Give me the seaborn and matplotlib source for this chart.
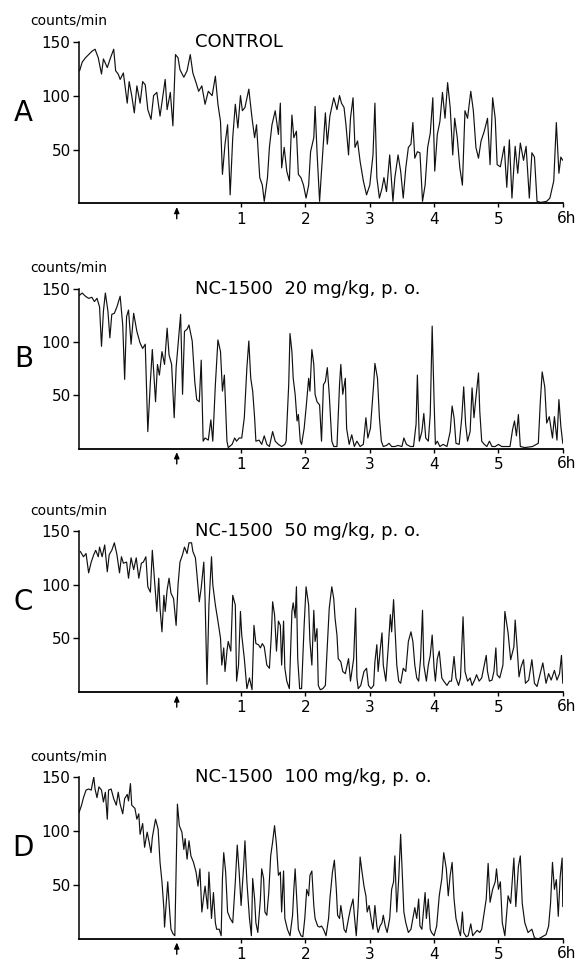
import matplotlib
matplotlib.use("Agg")
import matplotlib.pyplot as plt
import seaborn as sns
import pandas as pd

# activity traces (hours after dosing, counts/min)
hours_a = [-1.51, -1.47, -1.42, -1.37, -1.32, -1.27, -1.22, -1.17, -1.14, -1.08, -1.03, -0.98, -0.95, -0.91,
           -0.88, -0.83, -0.77, -0.74, -0.70, -0.66, -0.62, -0.57, -0.53, -0.49, -0.45, -0.40, -0.36, -0.31,
           -0.26, -0.22, -0.18, -0.15, -0.10, -0.06, -0.02, 0.02, 0.05, 0.11, 0.16, 0.21, 0.25, 0.30, 0.34,
           0.39, 0.44, 0.49, 0.55, 0.60, 0.64, 0.68, 0.71, 0.75, 0.79, 0.83, 0.87, 0.91, 0.95, 0.99, 1.02,
           1.06, 1.12, 1.17, 1.21, 1.24, 1.29, 1.33, 1.36, 1.41, 1.44, 1.48, 1.53, 1.58, 1.61,
           1.63, 1.67, 1.71, 1.75, 1.79, 1.82, 1.86, 1.89, 1.93, 1.97, 2.01, 2.05, 2.08, 2.13, 2.15, 2.18,
           2.22, 2.25, 2.31, 2.34, 2.38, 2.44, 2.49, 2.53, 2.56, 2.60, 2.63, 2.67, 2.70, 2.74, 2.77, 2.81,
           2.85, 2.90, 2.95, 3.00, 3.05, 3.08, 3.11, 3.15, 3.19, 3.22, 3.26, 3.31, 3.36, 3.39, 3.44, 3.48,
           3.52, 3.56, 3.60, 3.64, 3.67, 3.70, 3.74, 3.78, 3.82, 3.86, 3.90, 3.94, 3.98, 4.01, 4.05, 4.09,
           4.13, 4.17, 4.21, 4.25, 4.29, 4.32, 4.36, 4.40, 4.44, 4.48, 4.52, 4.57, 4.61, 4.65, 4.69, 4.73,
           4.78, 4.83, 4.87, 4.91, 4.95, 4.98,
           5.03, 5.09, 5.13, 5.17, 5.21, 5.26, 5.30, 5.34, 5.39, 5.43, 5.48, 5.52, 5.56, 5.60, 5.66, 5.75,
           5.80, 5.86, 5.90, 5.94, 5.97, 6.00]
counts_a = [123, 131, 135, 138, 141, 143, 135, 120, 134, 126, 135, 143, 123, 120,
            115, 121, 93, 113, 100, 84, 109, 93, 113, 110, 87, 78, 100, 103,
            81, 98, 115, 87, 103, 72, 138, 135, 124, 117, 123, 138, 121, 112, 104,
            109, 92, 104, 100, 118, 92, 76, 27, 55, 73, 8, 61, 92, 70, 100, 86,
            89, 106, 79, 61, 73, 24, 17, 2, 24, 52, 73, 86, 64, 93,
            33, 52, 30, 21, 82, 61, 67, 27, 24, 17, 5, 17, 48, 61, 90, 48,
            2, 30, 84, 55, 81, 98, 87, 100, 93, 89, 73, 45, 79, 98, 52, 58,
            39, 21, 8, 17, 45, 93, 24, 5, 14, 24, 11, 45, 2, 24, 45, 30,
            5, 33, 52, 55, 75, 42, 48, 47, 2, 17, 52, 65, 98, 30, 64, 76,
            103, 79, 112, 89, 45, 79, 61, 33, 17, 86, 79, 104, 86, 52, 42, 58,
            67, 79, 36, 98, 79, 36,
            34, 53, 15, 59, 5, 53, 28, 56, 40, 53, 5, 47, 43, 2, 1, 2,
            5, 21, 75, 28, 43, 40]

hours_b = [-1.51, -1.47, -1.42, -1.37, -1.32, -1.28, -1.24, -1.20, -1.17, -1.14, -1.11, -1.07, -1.04, -1.01,
           -0.97, -0.93, -0.88, -0.84, -0.81, -0.78, -0.75, -0.71, -0.67, -0.62, -0.57, -0.53, -0.49, -0.45,
           -0.41, -0.38, -0.33, -0.30, -0.27, -0.23, -0.19, -0.15, -0.12, -0.08, -0.04, -0.01, 0.03, 0.06,
           0.09, 0.12, 0.16, 0.19, 0.24, 0.28, 0.31, 0.35, 0.38, 0.41, 0.44, 0.49, 0.53, 0.56, 0.60, 0.64,
           0.68, 0.71, 0.74, 0.78, 0.80, 0.86, 0.90, 0.93, 0.97, 1.01, 1.05, 1.09, 1.12, 1.15, 1.18, 1.21,
           1.23, 1.28, 1.32, 1.36, 1.40, 1.44, 1.49, 1.53, 1.58, 1.63, 1.68,
           1.70, 1.74, 1.76, 1.79, 1.81, 1.84, 1.87, 1.89, 1.92, 1.94, 1.98, 2.01, 2.05, 2.07, 2.10, 2.13,
           2.15, 2.18, 2.22, 2.25, 2.28, 2.31, 2.34, 2.37, 2.41, 2.44, 2.49, 2.53, 2.55, 2.58, 2.62, 2.64,
           2.68, 2.72, 2.76, 2.80, 2.85, 2.90, 2.94, 2.97, 3.01, 3.06, 3.08, 3.12, 3.15, 3.18, 3.21, 3.26,
           3.30, 3.34, 3.39, 3.44, 3.50, 3.53, 3.57, 3.63, 3.68, 3.72, 3.74, 3.77, 3.81, 3.84, 3.87, 3.91,
           3.94, 3.97, 4.00, 4.02, 4.05, 4.09, 4.14, 4.20, 4.25, 4.28, 4.31, 4.34, 4.39, 4.43, 4.46, 4.49,
           4.52, 4.56, 4.59, 4.62, 4.65, 4.69, 4.71, 4.74, 4.78, 4.82, 4.86, 4.90, 4.95, 5.00, 5.05, 5.10,
           5.18, 5.22, 5.25, 5.28, 5.31, 5.34, 5.41, 5.53, 5.62, 5.65, 5.68, 5.72, 5.75, 5.79, 5.84, 5.87,
           5.91, 5.94, 5.97, 6.00]
counts_b = [144, 146, 143, 141, 142, 138, 141, 133, 96, 129, 146, 129, 104, 126,
            127, 133, 143, 116, 65, 124, 130, 98, 127, 110, 99, 94, 98, 16,
            63, 93, 44, 79, 69, 91, 79, 113, 88, 79, 29, 76, 104, 126,
            51, 110, 112, 116, 101, 63, 46, 44, 83, 7, 10, 8, 27, 7, 60, 102,
            91, 54, 69, 7, 1, 4, 10, 7, 10, 10, 29, 76, 101, 66, 54, 29,
            7, 8, 4, 12, 4, 2, 16, 7, 4, 2, 4,
            7, 60, 108, 91, 66, 51, 26, 32, 7, 4, 19, 38, 66, 54, 93, 79,
            51, 44, 41, 7, 60, 63, 76, 51, 7, 2, 2, 60, 79, 51, 66, 19,
            4, 13, 2, 7, 2, 4, 29, 10, 19, 60, 80, 66, 29, 7, 2, 3,
            5, 2, 2, 3, 2, 10, 4, 2, 2, 23, 69, 7, 16, 33, 10, 7,
            32, 115, 44, 4, 7, 2, 4, 2, 16, 40, 29, 5, 4, 29, 58, 23,
            7, 16, 57, 29, 48, 71, 35, 7, 4, 2, 7, 2, 2, 4, 2, 2,
            2, 18, 26, 12, 32, 2, 1, 2, 5, 43, 72, 58, 24, 30, 10, 30,
            8, 46, 21, 5]

hours_c = [-1.50, -1.45, -1.41, -1.37, -1.33, -1.29, -1.26, -1.22, -1.20, -1.16, -1.12, -1.08, -1.05, -1.01,
           -0.97, -0.93, -0.89, -0.86, -0.83, -0.78, -0.75, -0.71, -0.67, -0.63, -0.59, -0.55, -0.52, -0.48,
           -0.45, -0.41, -0.38, -0.34, -0.31, -0.28, -0.26, -0.23, -0.20, -0.18, -0.15, -0.12, -0.09, -0.05,
           -0.01, 0.02, 0.05, 0.09, 0.12, 0.16, 0.19, 0.23, 0.25, 0.29, 0.31, 0.35, 0.38, 0.42, 0.44, 0.47,
           0.50, 0.54, 0.56, 0.60, 0.64, 0.68, 0.70, 0.73, 0.75, 0.78, 0.80, 0.84, 0.87, 0.91, 0.93, 0.96,
           0.99, 1.01, 1.05, 1.09, 1.13, 1.17, 1.20, 1.23, 1.27, 1.30, 1.33, 1.36, 1.40, 1.44, 1.47, 1.49,
           1.52, 1.55, 1.58,
           1.61, 1.63, 1.66, 1.68, 1.71, 1.75, 1.79, 1.81, 1.84, 1.86, 1.88, 1.91, 1.94, 1.98, 2.01, 2.05,
           2.07, 2.10, 2.13, 2.15, 2.18, 2.20, 2.23, 2.27, 2.31, 2.33, 2.37, 2.41, 2.44, 2.46, 2.49, 2.51,
           2.55, 2.58, 2.62, 2.67, 2.70, 2.75, 2.78, 2.80, 2.82, 2.86, 2.89, 2.91, 2.95, 2.98, 3.02, 3.06,
           3.08, 3.11, 3.13, 3.16, 3.19, 3.21, 3.25, 3.29, 3.32, 3.34, 3.37, 3.39, 3.42, 3.45, 3.48, 3.52,
           3.56, 3.60, 3.64, 3.67, 3.70, 3.73, 3.76, 3.79, 3.82, 3.84, 3.88, 3.91, 3.94, 3.97, 4.00, 4.02,
           4.05, 4.08, 4.12, 4.15, 4.20, 4.24, 4.27, 4.31, 4.34, 4.38, 4.41, 4.45, 4.48, 4.52, 4.56, 4.59,
           4.63, 4.66, 4.70, 4.74, 4.78, 4.81, 4.83, 4.86, 4.90, 4.93, 4.96, 4.98, 5.02, 5.07, 5.10,
           5.15, 5.19, 5.24, 5.26, 5.29, 5.32, 5.35, 5.39, 5.42, 5.47, 5.52, 5.56, 5.60, 5.65, 5.69, 5.74,
           5.78, 5.82, 5.87, 5.91, 5.95, 5.98, 6.00]
counts_c = [131, 126, 129, 111, 121, 128, 132, 126, 135, 126, 137, 112, 128, 132,
            139, 128, 111, 126, 120, 121, 106, 125, 114, 125, 106, 120, 121, 126,
            98, 93, 132, 100, 75, 106, 78, 56, 90, 75, 95, 106, 92, 87,
            62, 100, 121, 128, 135, 129, 139, 139, 131, 125, 112, 84, 97, 121, 87, 7,
            81, 126, 100, 81, 66, 50, 25, 41, 19, 38, 47, 38, 90, 81, 10, 25,
            75, 53, 31, 3, 13, 2, 62, 45, 44, 41, 45, 42, 25, 22, 53, 84,
            72, 38, 66,
            62, 25, 66, 22, 10, 3, 75, 83, 69, 98, 31, 3, 3, 62, 98, 81,
            47, 25, 76, 47, 59, 6, 2, 3, 6, 31, 78, 98, 87, 69, 53, 31,
            28, 19, 17, 31, 10, 31, 78, 13, 3, 6, 14, 19, 22, 6, 3, 6,
            28, 44, 19, 38, 55, 25, 10, 44, 72, 56, 86, 62, 25, 10, 8, 22,
            19, 47, 56, 47, 25, 13, 10, 31, 76, 25, 10, 25, 34, 53, 22, 10,
            31, 38, 13, 10, 6, 10, 10, 33, 13, 6, 13, 70, 19, 10, 13, 6,
            11, 16, 10, 13, 25, 34, 19, 10, 11, 19, 41, 16, 13, 25, 75,
            55, 30, 42, 67, 42, 14, 23, 30, 8, 11, 30, 8, 5, 17, 27, 8,
            17, 11, 20, 11, 17, 34, 8]

hours_d = [-1.52, -1.48, -1.45, -1.41, -1.37, -1.33, -1.29, -1.27, -1.24, -1.21, -1.17, -1.14, -1.11, -1.08,
           -1.06, -1.02, -0.98, -0.94, -0.91, -0.88, -0.84, -0.81, -0.77, -0.75, -0.72, -0.70, -0.65, -0.62,
           -0.59, -0.57, -0.53, -0.50, -0.46, -0.43, -0.40, -0.38, -0.33, -0.29, -0.26, -0.23, -0.20, -0.19,
           -0.16, -0.14, -0.11, -0.09, -0.06, -0.03, -0.01, 0.01, 0.04, 0.08, 0.11, 0.13, 0.16, 0.19, 0.22,
           0.26, 0.30, 0.33, 0.36, 0.39, 0.42, 0.44, 0.48, 0.50, 0.54, 0.57, 0.60, 0.62, 0.66, 0.69, 0.71,
           0.73, 0.76, 0.79, 0.83, 0.87, 0.91, 0.94, 0.97, 1.00, 1.04, 1.06, 1.09, 1.13, 1.16, 1.18, 1.21,
           1.23, 1.26, 1.30, 1.32, 1.35, 1.37, 1.40, 1.43, 1.46, 1.49, 1.52, 1.55, 1.58,
           1.61, 1.63, 1.66, 1.68, 1.72, 1.76, 1.80, 1.82, 1.84, 1.87, 1.89, 1.93, 1.96, 1.99, 2.02, 2.05,
           2.07, 2.10, 2.13, 2.15, 2.19, 2.22, 2.25, 2.28, 2.32, 2.36, 2.38, 2.42, 2.45, 2.48, 2.50, 2.53,
           2.55, 2.58, 2.60, 2.63, 2.67, 2.70, 2.74, 2.76, 2.79, 2.82, 2.85, 2.88, 2.91, 2.94, 2.96, 2.99,
           3.02, 3.05, 3.08, 3.11, 3.13, 3.16, 3.19, 3.21, 3.24, 3.27, 3.31, 3.34, 3.37, 3.39, 3.42, 3.45,
           3.48, 3.51, 3.53, 3.56, 3.60, 3.64, 3.67, 3.70, 3.73, 3.76, 3.78, 3.81, 3.86, 3.88, 3.91, 3.94,
           3.96, 4.00, 4.04, 4.08, 4.12, 4.15, 4.19, 4.22, 4.25, 4.28, 4.31, 4.34, 4.38, 4.41, 4.44, 4.46,
           4.50, 4.53, 4.57, 4.60, 4.64, 4.67, 4.71, 4.74, 4.78, 4.81, 4.84, 4.87, 4.91, 4.95, 4.97, 5.00,
           5.03, 5.06, 5.10,
           5.15, 5.19, 5.24, 5.27, 5.31, 5.34, 5.37, 5.41, 5.46, 5.52, 5.56, 5.62, 5.68, 5.74, 5.78, 5.81,
           5.84, 5.87, 5.90, 5.93, 5.96, 5.99, 6.00]
counts_d = [117, 124, 131, 138, 139, 138, 150, 139, 131, 141, 138, 127, 136, 111,
            138, 139, 130, 124, 136, 125, 116, 130, 134, 128, 144, 124, 121, 111,
            116, 97, 107, 85, 99, 90, 80, 94, 111, 102, 71, 53, 28, 11,
            37, 53, 25, 9, 5, 3, 62, 125, 105, 99, 83, 93, 74, 91, 77,
            71, 62, 49, 65, 25, 40, 49, 28, 62, 19, 43, 15, 9, 9, 3, 56,
            80, 62, 25, 19, 15, 53, 87, 62, 31, 68, 91, 53, 19, 3, 56, 37,
            15, 6, 37, 65, 56, 25, 22, 43, 77, 90, 105, 87, 59,
            62, 25, 63, 19, 9, 3, 22, 46, 65, 31, 9, 3, 2, 19, 46, 40,
            59, 63, 31, 19, 12, 11, 12, 9, 3, 19, 37, 62, 73, 46, 22, 19,
            31, 19, 9, 6, 19, 28, 37, 22, 3, 31, 76, 62, 49, 40, 25, 31,
            19, 9, 31, 12, 6, 12, 15, 22, 12, 6, 19, 46, 53, 77, 25, 56,
            97, 53, 25, 15, 6, 9, 19, 29, 19, 37, 12, 9, 43, 19, 37, 9,
            6, 3, 12, 40, 56, 80, 65, 40, 59, 71, 37, 19, 9, 3, 25, 6,
            2, 3, 14, 3, 6, 8, 6, 9, 25, 37, 70, 34, 46, 53, 65, 46,
            53, 15, 3,
            40, 33, 75, 30, 67, 77, 33, 15, 6, 9, 1, 0, 2, 4, 12, 33,
            71, 46, 55, 21, 58, 75, 30]

panel_letters = ["A", "B", "C", "D"]
panel_titles = ["CONTROL", "NC-1500  20 mg/kg, p. o.", "NC-1500  50 mg/kg, p. o.",
                "NC-1500  100 mg/kg, p. o."]
y_ticks = [50, 100, 150]
x_ticks = [1, 2, 3, 4, 5, 6]
x_tick_labels = ["1", "2", "3", "4", "5", ""]

sns.set_style("ticks")
plt.rcParams["font.family"] = ["DejaVu Sans"]
plt.rcParams.update({"text.color": "black", "xtick.color": "black", "ytick.color": "black",
                     "axes.edgecolor": "black", "axes.labelcolor": "black"})

fig = plt.figure(figsize=(5.85, 9.69), dpi=100)

# axes boxes (left, bottom, width, height as figure fractions)
boxes = [(0.135, 0.790, 0.827, 0.167),
         (0.135, 0.537, 0.827, 0.165),
         (0.135, 0.286, 0.827, 0.166),
         (0.135, 0.031, 0.827, 0.167)]

traces = [(hours_a, counts_a), (hours_b, counts_b), (hours_c, counts_c), (hours_d, counts_d)]

for box, (hrs, cnt), letter, title in zip(boxes, traces, panel_letters, panel_titles):
    ax = fig.add_axes(box)
    df = pd.DataFrame({"hour": hrs, "counts": cnt})
    sns.lineplot(data=df, x="hour", y="counts", ax=ax, color="#111111", linewidth=0.85,
                 estimator=None, sort=False)

    ax.set_xlim(-1.52, 6.0)
    ax.set_ylim(0, 150)
    sns.despine(ax=ax)
    ax.spines["left"].set_bounds(0, 150)
    ax.spines["left"].set_linewidth(1.1)
    ax.spines["bottom"].set_linewidth(1.3)

    ax.set_yticks(y_ticks)
    ax.set_yticklabels([str(v) for v in y_ticks], fontsize=11)
    ax.set_xticks(x_ticks)
    ax.set_xticklabels(x_tick_labels, fontsize=11)
    ax.tick_params(axis="y", length=4, width=1, pad=2)
    ax.tick_params(axis="x", length=3, width=1, pad=3)
    ax.set_xlabel("")
    ax.set_ylabel("")

    ax.annotate("6h", xy=(6, 0), xycoords=("data", "axes fraction"), xytext=(-4, -5.2),
                textcoords="offset points", ha="left", va="top", fontsize=11)

    # dosing arrow at time zero
    ax.annotate("", xy=(0, 0), xycoords=("data", "axes fraction"), xytext=(0, -11),
                textcoords="offset points",
                arrowprops=dict(arrowstyle="-|>,head_length=0.35,head_width=0.15",
                                color="black", lw=1.0, shrinkA=0, shrinkB=2.5))

    ax.text(-0.10, 1.13, "counts/min", transform=ax.transAxes, ha="left", va="center", fontsize=10)
    ax.text(0.24, 1.0, title, transform=ax.transAxes, ha="left", va="center", fontsize=13)
    ax.text(-0.115, 0.56, letter, transform=ax.transAxes, ha="center", va="center", fontsize=20)

fig.savefig("out.png", dpi=100)
